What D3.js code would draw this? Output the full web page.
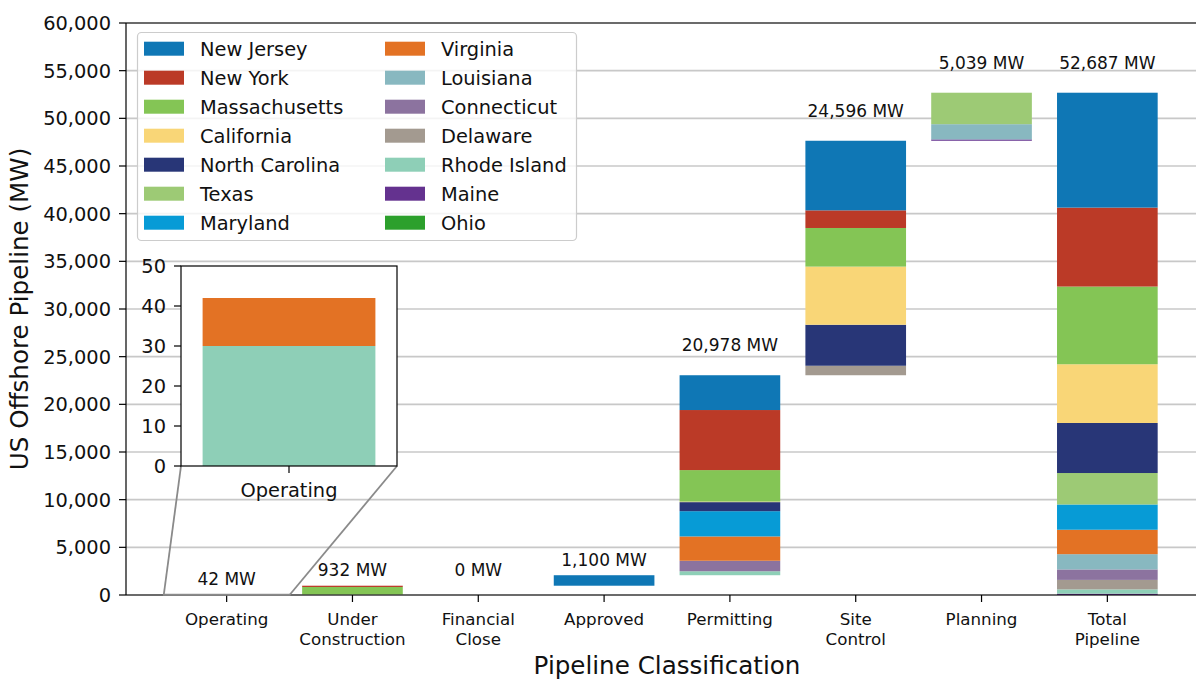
<!DOCTYPE html>
<html>
<head>
<meta charset="utf-8">
<script src="https://cdn.jsdelivr.net/npm/d3@7"></script>
<style>
  html, body { margin: 0; padding: 0; background: #fff; }
  svg { display: block; font-family: "DejaVu Sans", sans-serif; }
</style>
</head>
<body>
<svg id="chart" width="1196" height="680"></svg>
<script>
// stages of the pipeline (waterfall), last bar is the total
const stages = ["Operating", "Under\nConstruction", "Financial\nClose", "Approved", "Permitting", "Site\nControl", "Planning"];
const totalStage = "Total\nPipeline";

// legend order
const states = ["New Jersey", "New York", "Massachusetts", "California", "North Carolina", "Texas", "Maryland",
                "Virginia", "Louisiana", "Connecticut", "Delaware", "Rhode Island", "Maine", "Ohio"];
const stateColors = ["#0f77b5", "#bb3a27", "#84c555", "#f9d677", "#283677", "#9dca75", "#079bd6",
                     "#e37224", "#88b8c0", "#8c739f", "#a39a90", "#8ecfb7", "#64328f", "#2ca02c"];

// MW per stage (same order as stages)
const newJersey     = [0,   0,   0, 1100, 3650, 7300,    0];
const newYork       = [0, 132,   0,    0, 6300, 1850,    0];
const massachusetts = [0, 800,   0,    0, 3300, 4050,    0];
const california    = [0,   0,   0,    0,   60, 6100,    0];
const northCarolina = [0,   0,   0,    0,  950, 4300,    0];
const texas         = [0,   0,   0,    0,    0,    0, 3300];
const maryland      = [0,   0,   0,    0, 2650,    0,    0];
const virginia      = [12,  0,   0,    0, 2550,    0,    0];
const louisiana     = [0,   0,   0,    0,    0,    0, 1600];
const connecticut   = [0,   0,   0,    0, 1100,    0,    0];
const delaware      = [0,   0,   0,    0,    0,  996,    0];
const rhodeIsland   = [30,  0,   0,    0,  418,    0,    0];
const maine         = [0,   0,   0,    0,    0,    0,  139];
const ohio          = [0,   0,   0,    0,    0,    0,    0];

const stateValues = [newJersey, newYork, massachusetts, california, northCarolina, texas, maryland,
                     virginia, louisiana, connecticut, delaware, rhodeIsland, maine, ohio];

const yTicks = d3.range(0, 60001, 5000);
const insetTicks = [0, 10, 20, 30, 40, 50];

// ---- build table -------------------------------------------------
const stageTotals = stages.map((s, i) => d3.sum(stateValues, v => v[i]));
const bases = [0, ...d3.cumsum(stageTotals)].slice(0, stages.length);
const stateTotals = stateValues.map(v => d3.sum(v));

const bars = stages.map((s, i) => ({
  name: s, base: bases[i], total: stageTotals[i],
  values: stateValues.map(v => v[i])
}));
bars.push({ name: totalStage, base: 0, total: d3.sum(stateTotals), values: stateTotals });

// stack bottom-up in reverse legend order
const stackOrder = d3.range(states.length).reverse();
bars.forEach(b => {
  let y0 = b.base;
  b.segs = [];
  stackOrder.forEach(k => {
    const v = b.values[k];
    if (v > 0) b.segs.push({ k, y0, y1: y0 + v });
    y0 += v;
  });
});

// ---- chart ---------------------------------------------------------
const svg = d3.select('#chart');
const plotL = 126, plotR = 1208, plotT = 23, plotB = 595;

const x = d3.scaleLinear().domain([-0.8, 7.8]).range([plotL, plotR]);
const y = d3.scaleLinear().domain([0, 60000]).range([plotB, plotT]);
const barW = x(0.8) - x(0);
const fmt = d3.format(',');

// grid
svg.append('g').selectAll('line').data(yTicks).join('line')
  .attr('x1', plotL).attr('x2', plotR)
  .attr('y1', d => y(d)).attr('y2', d => y(d))
  .attr('stroke', '#c8c8c8').attr('stroke-width', 1.6);

// bars
const bg = svg.append('g');
bars.forEach((b, i) => {
  bg.append('g').selectAll('rect').data(b.segs).join('rect')
    .attr('x', x(i) - barW / 2)
    .attr('width', barW)
    .attr('y', d => y(d.y1))
    .attr('height', d => y(d.y0) - y(d.y1))
    .attr('fill', d => stateColors[d.k]);
});

// value labels
svg.append('g').selectAll('text').data(bars).join('text')
  .attr('x', (d, i) => x(i))
  .attr('y', d => y(d.base + d.total + (d.total > 2000 ? 2500 : 1000)))
  .attr('text-anchor', 'middle')
  .attr('font-size', 17)
  .attr('fill', '#111')
  .text(d => fmt(d.total) + ' MW');

// y axis
const yAxis = svg.append('g');
yAxis.selectAll('line').data(yTicks).join('line')
  .attr('x1', plotL - 7).attr('x2', plotL)
  .attr('y1', d => y(d)).attr('y2', d => y(d))
  .attr('stroke', '#000').attr('stroke-width', 1.2);
yAxis.selectAll('text').data(yTicks).join('text')
  .attr('x', plotL - 15).attr('y', d => y(d) + 7)
  .attr('text-anchor', 'end').attr('font-size', 19.4).attr('fill', '#111')
  .text(d => fmt(d));

// x axis
const xAxis = svg.append('g');
const xNames = bars.map(b => b.name);
xAxis.selectAll('line').data(xNames).join('line')
  .attr('x1', (d, i) => x(i)).attr('x2', (d, i) => x(i))
  .attr('y1', plotB).attr('y2', plotB + 7)
  .attr('stroke', '#000').attr('stroke-width', 1.2);
xAxis.selectAll('text').data(xNames).join('text')
  .attr('text-anchor', 'middle').attr('font-size', 16.7).attr('fill', '#111')
  .each(function (d, i) {
    d3.select(this).selectAll('tspan').data(d.split('\n')).join('tspan')
      .attr('x', x(i)).attr('y', (t, j) => 625 + j * 19.5)
      .text(t => t);
  });

// spines
svg.append('line').attr('x1', plotL).attr('x2', plotL).attr('y1', plotT).attr('y2', plotB)
  .attr('stroke', '#000').attr('stroke-width', 1.2);
svg.append('line').attr('x1', plotL).attr('x2', plotR).attr('y1', plotB).attr('y2', plotB)
  .attr('stroke', '#000').attr('stroke-width', 1.2);
svg.append('line').attr('x1', plotL).attr('x2', plotR).attr('y1', plotT).attr('y2', plotT)
  .attr('stroke', '#000').attr('stroke-width', 1.2);

// axis titles
svg.append('text').attr('x', (plotL + plotR) / 2).attr('y', 674)
  .attr('text-anchor', 'middle').attr('font-size', 24.6).attr('fill', '#111')
  .text('Pipeline Classification');
svg.append('text').attr('transform', `translate(28,${(plotT + plotB) / 2}) rotate(-90)`)
  .attr('text-anchor', 'middle').attr('font-size', 24.6).attr('fill', '#111')
  .text('US Offshore Pipeline (MW)');

// legend
const lg = svg.append('g');
lg.append('rect').attr('x', 137.5).attr('y', 32.5).attr('width', 439).attr('height', 208)
  .attr('rx', 4).attr('fill', '#fff').attr('fill-opacity', 0.8)
  .attr('stroke', '#cccccc').attr('stroke-width', 1.2);
const items = lg.selectAll('g').data(states).join('g')
  .attr('transform', (d, i) => `translate(${i < 7 ? 144 : 385},${48.7 + (i % 7) * 29})`);
items.append('rect').attr('x', 0).attr('y', -7).attr('width', 40).attr('height', 14)
  .attr('fill', (d, i) => stateColors[i]);
items.append('text').attr('x', 56).attr('y', 7).attr('font-size', 19.4).attr('fill', '#111')
  .text(d => d);

// inset zoom on the Operating bar
const ix = d3.scaleLinear().domain([-0.5, 0.5]).range([181, 397]);
const iy = d3.scaleLinear().domain([0, 50]).range([466, 266]);

// indicator rectangle and connectors
const grey = '#8a8a8a';
svg.append('rect').attr('x', x(-0.5)).attr('y', y(50)).attr('width', x(0.5) - x(-0.5))
  .attr('height', y(0) - y(50)).attr('fill', 'none').attr('stroke', grey).attr('stroke-width', 1.5);
svg.append('line').attr('x1', ix(-0.5)).attr('y1', iy(0)).attr('x2', x(-0.5)).attr('y2', y(0))
  .attr('stroke', grey).attr('stroke-width', 1.8);
svg.append('line').attr('x1', ix(0.5)).attr('y1', iy(0)).attr('x2', x(0.5)).attr('y2', y(0))
  .attr('stroke', grey).attr('stroke-width', 1.8);

const inset = svg.append('g');
inset.append('rect').attr('x', 181).attr('y', 266).attr('width', 216).attr('height', 200)
  .attr('fill', '#fff');
const op = bars[0];
const ibw = ix(0.4) - ix(-0.4);
inset.selectAll('rect.seg').data(op.segs).join('rect').attr('class', 'seg')
  .attr('x', ix(-0.4)).attr('width', ibw)
  .attr('y', d => iy(d.y1)).attr('height', d => iy(d.y0) - iy(d.y1))
  .attr('fill', d => stateColors[d.k]);
inset.append('rect').attr('x', 181).attr('y', 266).attr('width', 216).attr('height', 200)
  .attr('fill', 'none').attr('stroke', '#000').attr('stroke-width', 1.2);
inset.selectAll('line.yt').data(insetTicks).join('line').attr('class', 'yt')
  .attr('x1', 174).attr('x2', 181).attr('y1', d => iy(d)).attr('y2', d => iy(d))
  .attr('stroke', '#000').attr('stroke-width', 1.2);
inset.selectAll('text.yt').data(insetTicks).join('text').attr('class', 'yt')
  .attr('x', 166).attr('y', d => iy(d) + 7)
  .attr('text-anchor', 'end').attr('font-size', 19.4).attr('fill', '#111')
  .text(d => d);
inset.append('line').attr('x1', ix(0)).attr('x2', ix(0)).attr('y1', 466).attr('y2', 473)
  .attr('stroke', '#000').attr('stroke-width', 1.2);
inset.append('text').attr('x', ix(0)).attr('y', 497)
  .attr('text-anchor', 'middle').attr('font-size', 19.4).attr('fill', '#111')
  .text(stages[0]);
</script>
</body>
</html>
